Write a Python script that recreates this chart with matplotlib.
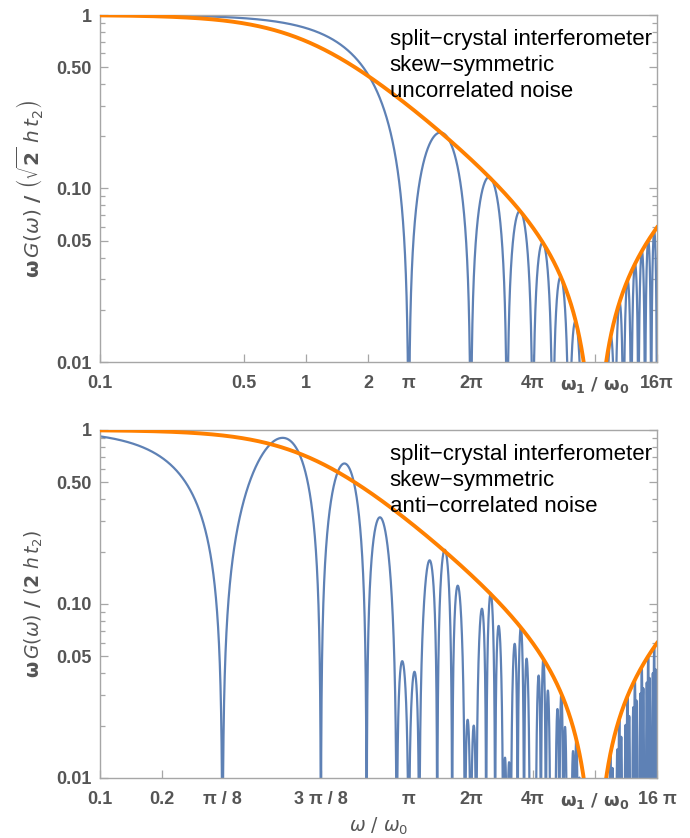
import numpy as np
import matplotlib
matplotlib.use("Agg")
import matplotlib.pyplot as plt
from matplotlib.ticker import FixedLocator, NullFormatter, NullLocator

plt.rcParams['font.family'] = ['Liberation Sans', 'DejaVu Sans']
plt.rcParams['mathtext.fontset'] = 'dejavusans'

PI = np.pi
# ---- values ----
OMEGA1 = 8 * PI          # position of the omega1/omega0 tick (envelope zero)
X_MIN, X_MAX = 0.1, 16 * PI
Y_MIN, Y_MAX = 0.01, 1.0
BOTTOM_BEAT = 4          # bottom curve zeros at odd multiples of pi/8

W1_LABEL = r'$\mathbf{\omega_1\ /\ \omega_0}$'
top_xticks = [0.1, 0.5, 1, 2, PI, 2 * PI, 4 * PI, OMEGA1, 16 * PI]
top_xlabels = ['0.1', '0.5', '1', '2', 'π', '2π', '4π', W1_LABEL, '16π']
bot_xticks = [0.1, 0.2, PI / 8, 3 * PI / 8, PI, 2 * PI, 4 * PI, OMEGA1, 16 * PI]
bot_xlabels = ['0.1', '0.2', 'π / 8', '3 π / 8', 'π', '2π', '4π', W1_LABEL, '16 π']
yticks = [0.01, 0.05, 0.1, 0.5, 1.0]
ylabels = ['0.01', '0.05', '0.10', '0.50', '1']
yminor = [0.02, 0.03, 0.04, 0.06, 0.07, 0.08, 0.09, 0.2, 0.3, 0.4, 0.6, 0.7, 0.8, 0.9]

top_text = ['split−crystal interferometer', 'skew−symmetric', 'uncorrelated noise']
bot_text = ['split−crystal interferometer', 'skew−symmetric', 'anti−correlated noise']
top_ylabel = r'$\mathbf{\omega}\,G(\omega)\ \mathbf{/}\ \left(\sqrt{\mathbf{2}}\ h\,t_2\right)$'
bot_ylabel = r'$\mathbf{\omega}\,G(\omega)\ \mathbf{/}\ (\mathbf{2}\ h\,t_2)$'
xlabel = r'$\omega\ /\ \omega_0$'

BLUE = '#5E81B5'
ORANGE = '#FF8000'
GRAY = '#A6A6A6'
LABEL = '#555555'

w = np.logspace(np.log10(X_MIN), np.log10(X_MAX), 80000)
shape = np.abs(1 - (w / OMEGA1) ** 2)
envelope = shape / np.sqrt(1 + w ** 2)
blue_top = np.abs(np.sin(w) / w) * shape
blue_bot = np.abs(np.sin(w) * np.cos(BOTTOM_BEAT * w) / w) * shape
floor = 1e-6

fig = plt.figure(figsize=(6.9, 8.38), dpi=100)
ax1 = fig.add_axes([100 / 690, 1 - 362 / 838, 557 / 690, 347 / 838])
ax2 = fig.add_axes([100 / 690, 1 - 778 / 838, 557 / 690, 348 / 838])


def style(ax, xt, xl, blue, texts, ylab, ysize):
    ax.plot(w, np.maximum(blue, floor), color=BLUE, lw=1.6, zorder=2)
    ax.plot(w, np.maximum(envelope, floor), color=ORANGE, lw=2.8, zorder=3)
    ax.set_xscale('log')
    ax.set_yscale('log')
    ax.set_xlim(X_MIN, X_MAX)
    ax.set_ylim(Y_MIN, Y_MAX)
    ax.xaxis.set_major_locator(FixedLocator(xt))
    ax.xaxis.set_minor_locator(NullLocator())
    ax.set_xticklabels(xl)
    ax.yaxis.set_major_locator(FixedLocator(yticks))
    ax.yaxis.set_minor_locator(FixedLocator(yminor))
    ax.yaxis.set_minor_formatter(NullFormatter())
    ax.set_yticklabels(ylabels)
    for s in ax.spines.values():
        s.set_color(GRAY)
        s.set_linewidth(1.0)
    ax.tick_params(axis='both', which='both', direction='in', color=GRAY,
                   labelcolor=LABEL, labelsize=13, width=0.9)
    ax.tick_params(axis='y', which='major', length=6, pad=6, right=True)
    ax.tick_params(axis='y', which='minor', length=3.5, right=True)
    ax.tick_params(axis='x', which='major', length=6, pad=9, top=False)
    for lab in ax.get_xticklabels() + ax.get_yticklabels():
        lab.set_fontweight('bold')
    for i, t in enumerate(texts):
        ax.text(0.52, 0.93 - i * 0.075, t, transform=ax.transAxes,
                fontsize=16, color='black', va='center', ha='left')
    ax.set_ylabel(ylab, color=LABEL, fontsize=ysize, labelpad=8)


style(ax1, top_xticks, top_xlabels, blue_top, top_text, top_ylabel, 14.5)
style(ax2, bot_xticks, bot_xlabels, blue_bot, bot_text, bot_ylabel, 13.5)
fig.text((100 + 557 / 2) / 690, 1 - 826 / 838, xlabel, color=LABEL,
         fontsize=13.5, ha='center', va='center')

fig.savefig('out.png', dpi=100)
